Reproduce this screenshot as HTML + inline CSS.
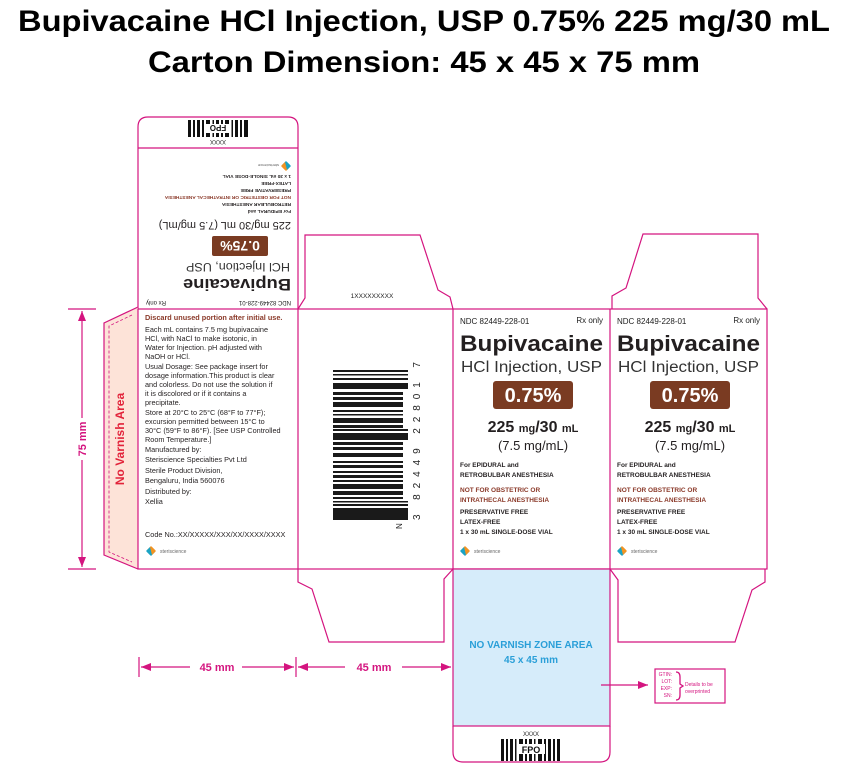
<!DOCTYPE html>
<html><head><meta charset="utf-8"><style>
html,body{margin:0;padding:0;background:#fff}
svg{display:block}
text{font-family:"Liberation Sans",sans-serif}
</style></head><body>
<svg width="841" height="768" viewBox="0 0 841 768" xmlns="http://www.w3.org/2000/svg">
<defs>
<marker id="ar" markerWidth="10" markerHeight="8" refX="10" refY="4" orient="auto" markerUnits="userSpaceOnUse"><path d="M0,0 L10,4 L0,8z" fill="#d4147f"/></marker>
<g id="logo"><path d="M0,-5 L4,-1 L0,0 L-4,-1z" fill="#f29322"/><path d="M0,5 L4,1 L0,0 L-4,1z" fill="#1aa3c4"/><path d="M-5,0 L-1,-4 L0,0 L-1,4z" fill="#1aa3c4"/><path d="M5,0 L1,-4 L0,0 L1,4z" fill="#f29322"/></g>
<g id="front">
<text x="460" y="324" font-size="8" fill="#222">NDC 82449-228-01</text>
<text x="603" y="323" font-size="8" fill="#222" text-anchor="end">Rx only</text>
<text x="460" y="351" font-size="22" font-weight="bold" fill="#231f20" textLength="143" lengthAdjust="spacingAndGlyphs">Bupivacaine</text>
<text x="461" y="372" font-size="15.5" fill="#333" textLength="141" lengthAdjust="spacingAndGlyphs">HCl Injection, USP</text>
<rect x="493" y="381" width="80" height="28" rx="3" fill="#7a3b22"/>
<text x="533" y="402" font-size="20" font-weight="bold" fill="#fff" text-anchor="middle">0.75%</text>
<text x="533" y="432" font-size="16" font-weight="bold" fill="#231f20" text-anchor="middle"><tspan>225 </tspan><tspan font-size="11">mg</tspan><tspan>/30 </tspan><tspan font-size="11">mL</tspan></text>
<text x="533" y="450" font-size="13" fill="#231f20" text-anchor="middle">(7.5 mg/mL)</text>
<g font-size="6.5" font-weight="bold" fill="#231f20">
<text x="460" y="467">For EPIDURAL and</text>
<text x="460" y="477">RETROBULBAR ANESTHESIA</text>
<text x="460" y="492" fill="#8b3a2a">NOT FOR OBSTETRIC OR</text>
<text x="460" y="502" fill="#8b3a2a">INTRATHECAL ANESTHESIA</text>
<text x="460" y="514">PRESERVATIVE FREE</text>
<text x="460" y="524">LATEX-FREE</text>
<text x="460" y="534">1 x 30 mL SINGLE-DOSE VIAL</text>
</g>
<use href="#logo" x="465" y="551"/>
<text x="474" y="553" font-size="5" fill="#666">steriscience</text>
</g>
</defs>

<text x="424" y="31" font-size="30" font-weight="bold" text-anchor="middle" textLength="812" lengthAdjust="spacingAndGlyphs">Bupivacaine HCl Injection, USP 0.75% 225 mg/30 mL</text>
<text x="424" y="72" font-size="30" font-weight="bold" text-anchor="middle" textLength="552" lengthAdjust="spacingAndGlyphs">Carton Dimension: 45 x 45 x 75 mm</text>

<g fill="none" stroke="#d4147f" stroke-width="1.2">
<path d="M138,309 V127 Q138,117 148,117 H288 Q298,117 298,127 V309"/>
<line x1="138" y1="148" x2="298" y2="148"/>
<path d="M138,307 L104,323 L104,555 L138,569" fill="#fde3d8"/>
<path d="M132,315 L109,326 L109,552 L132,562" stroke-dasharray="3,2" stroke-width="0.8"/>
<rect x="138" y="309" width="629" height="260"/>
<line x1="298" y1="309" x2="298" y2="569"/>
<line x1="453" y1="309" x2="453" y2="569"/>
<line x1="610" y1="309" x2="610" y2="569"/>
<path d="M298,309 L305,298 L305,235 L420,235 L438,290 L450,297 L453,309"/>
<path d="M612,309 L612,296 L626,288 L643,234 L758,234 L758,298 L767,309"/>
<path d="M298,569 L298,582 L312,589 L329,642 L444,642 L444,579 L453,569"/>
<rect x="453" y="569" width="157" height="157" fill="#d6ecfa"/>
<path d="M453,726 V752 Q453,762 463,762 H600 Q610,762 610,752 V726"/>
<path d="M610,569 L618,580 L618,642 L735,642 L752,590 L765,582 L765,569"/>
</g>

<g transform="rotate(180 218 213)">
<text x="145" y="125" font-size="6" fill="#222">NDC 82449-228-01</text>
<text x="290" y="125" font-size="6" fill="#222" text-anchor="end">Rx only</text>
<text x="145" y="147" font-size="17" font-weight="bold" fill="#231f20" textLength="108" lengthAdjust="spacingAndGlyphs">Bupivacaine</text>
<text x="146" y="163" font-size="12" fill="#333" textLength="104" lengthAdjust="spacingAndGlyphs">HCl Injection, USP</text>
<rect x="168" y="170" width="56" height="20" rx="2" fill="#7a3b22"/>
<text x="196" y="185" font-size="14" font-weight="bold" fill="#fff" text-anchor="middle">0.75%</text>
<text x="145" y="204" font-size="11" fill="#231f20">225 mg/30 mL (7.5 mg/mL)</text>
<g font-size="4.8" font-weight="bold" fill="#231f20">
<text x="145" y="216">For EPIDURAL and</text>
<text x="145" y="223">RETROBULBAR ANESTHESIA</text>
<text x="145" y="230" fill="#8b3a2a">NOT FOR OBSTETRIC OR INTRATHECAL ANESTHESIA</text>
<text x="145" y="237">PRESERVATIVE FREE</text>
<text x="145" y="244">LATEX-FREE</text>
<text x="145" y="251">1 x 30 mL SINGLE-DOSE VIAL</text>
</g>
<use href="#logo" x="150" y="260"/>
<text x="157" y="262" font-size="4" fill="#666">steriscience</text>
<text x="218" y="286" font-size="6" fill="#222" text-anchor="middle">XXXX</text>
<g fill="#111"><rect x="188" y="289" width="4" height="17"/><rect x="194" y="289" width="2" height="17"/><rect x="198" y="289" width="3" height="17"/><rect x="203" y="289" width="1.5" height="17"/><rect x="207" y="289" width="4" height="17"/><rect x="213" y="289" width="2" height="17"/><rect x="217" y="289" width="3" height="17"/><rect x="222" y="289" width="1.5" height="17"/><rect x="226" y="289" width="4" height="17"/><rect x="232" y="289" width="2" height="17"/><rect x="236" y="289" width="3" height="17"/><rect x="241" y="289" width="2" height="17"/><rect x="245" y="289" width="3" height="17"/></g>
<rect x="205" y="293" width="26" height="9" fill="#fff"/>
<text x="218" y="301" font-size="8" font-weight="bold" text-anchor="middle" fill="#111">FPO</text>
</g>

<g font-size="7.3" fill="#231f20">
<text x="145" y="320" font-weight="bold" fill="#8b3a2a">Discard unused portion after initial use.</text>
<text x="145" y="332">Each mL contains 7.5 mg  bupivacaine</text>
<text x="145" y="341">HCl, with NaCl to make isotonic, in</text>
<text x="145" y="350">Water for Injection. pH adjusted with</text>
<text x="145" y="359">NaOH or HCl.</text>
<text x="145" y="369">Usual Dosage: See package insert for</text>
<text x="145" y="378">dosage information.This product is clear</text>
<text x="145" y="387">and colorless. Do not use the solution if</text>
<text x="145" y="396">it is discolored or if it contains a</text>
<text x="145" y="405">precipitate.</text>
<text x="145" y="415">Store at 20°C to 25°C (68°F to 77°F);</text>
<text x="145" y="424">excursion permitted between 15°C to</text>
<text x="145" y="433">30°C (59°F to 86°F). [See USP Controlled</text>
<text x="145" y="442">Room Temperature.]</text>
<text x="145" y="452">Manufactured by:</text>
<text x="145" y="462">Steriscience Specialties Pvt Ltd</text>
<text x="145" y="473">Sterile Product Division,</text>
<text x="145" y="483">Bengaluru, India 560076</text>
<text x="145" y="494">Distributed by:</text>
<text x="145" y="504">Xellia</text>
<text x="145" y="537">Code No.:XX/XXXXX/XXX/XX/XXXX/XXXX</text>
</g>
<use href="#logo" x="151" y="551"/>
<text x="160" y="553" font-size="5" fill="#666">steriscience</text>

<text transform="translate(124 439) rotate(-90)" font-size="12" font-weight="bold" fill="#e2233a" text-anchor="middle">No Varnish Area</text>

<text x="372" y="298" font-size="6.5" fill="#222" text-anchor="middle">1XXXXXXXXX</text>
<g fill="#1a1a1a">
<rect x="333" y="370" width="75" height="2"/><rect x="333" y="374" width="75" height="1.5"/><rect x="333" y="378" width="75" height="2"/><rect x="333" y="383" width="75" height="6"/><rect x="333" y="392" width="70" height="3"/><rect x="333" y="397" width="70" height="3"/><rect x="333" y="402" width="70" height="5"/><rect x="333" y="410" width="70" height="2"/><rect x="333" y="414" width="70" height="1.5"/><rect x="333" y="418" width="70" height="5"/><rect x="333" y="425" width="70" height="3"/><rect x="333" y="429" width="75" height="2"/><rect x="333" y="433" width="75" height="7"/><rect x="333" y="442" width="70" height="3"/><rect x="333" y="447" width="70" height="3"/><rect x="333" y="453" width="70" height="4"/><rect x="333" y="461" width="70" height="2"/><rect x="333" y="465" width="70" height="3"/><rect x="333" y="471" width="70" height="2"/><rect x="333" y="475" width="70" height="3"/><rect x="333" y="480" width="70" height="2"/><rect x="333" y="484" width="70" height="5"/><rect x="333" y="491" width="70" height="4"/><rect x="333" y="497" width="70" height="2"/><rect x="333" y="501" width="75" height="1.5"/><rect x="333" y="504" width="75" height="2"/><rect x="333" y="508" width="75" height="12"/>
</g>
<text transform="translate(420 520) rotate(-90)" font-size="10" fill="#222" textLength="158" lengthAdjust="spacing">3 82449 22801 7</text>
<text transform="translate(402 529) rotate(-90)" font-size="8" fill="#222">N</text>

<use href="#front"/>
<use href="#front" x="157"/>

<text x="531" y="648" font-size="10" font-weight="bold" fill="#2a9fd8" text-anchor="middle">NO VARNISH ZONE AREA</text>
<text x="531" y="663" font-size="10" font-weight="bold" fill="#2a9fd8" text-anchor="middle">45 x 45 mm</text>
<text x="531" y="736" font-size="6" fill="#222" text-anchor="middle">XXXX</text>
<g fill="#111"><rect x="501" y="739" width="3" height="22"/><rect x="506" y="739" width="2" height="22"/><rect x="510" y="739" width="3" height="22"/><rect x="515" y="739" width="1.5" height="22"/><rect x="519" y="739" width="4" height="22"/><rect x="525" y="739" width="2" height="22"/><rect x="529" y="739" width="3" height="22"/><rect x="534" y="739" width="1.5" height="22"/><rect x="538" y="739" width="4" height="22"/><rect x="544" y="739" width="2" height="22"/><rect x="548" y="739" width="3" height="22"/><rect x="553" y="739" width="2" height="22"/><rect x="557" y="739" width="3" height="22"/></g>
<rect x="518" y="744" width="27" height="10" fill="#fff"/>
<text x="531" y="753" font-size="9" font-weight="bold" text-anchor="middle" fill="#111">FPO</text>

<g stroke="#d4147f" stroke-width="1.2" fill="none">
<line x1="139" y1="657" x2="139" y2="677"/>
<line x1="296" y1="657" x2="296" y2="677"/>
<line x1="242" y1="667" x2="294" y2="667" marker-end="url(#ar)"/>
<line x1="190" y1="667" x2="141" y2="667" marker-end="url(#ar)"/>
<line x1="345" y1="667" x2="298" y2="667" marker-end="url(#ar)"/>
<line x1="402" y1="667" x2="451" y2="667" marker-end="url(#ar)"/>
<line x1="68" y1="309" x2="96" y2="309"/>
<line x1="68" y1="569" x2="96" y2="569"/>
<line x1="82" y1="418" x2="82" y2="311" marker-end="url(#ar)"/>
<line x1="82" y1="460" x2="82" y2="567" marker-end="url(#ar)"/>
<line x1="601" y1="685" x2="648" y2="685" marker-end="url(#ar)"/>
<rect x="655" y="669" width="70" height="34"/>
</g>
<text x="217" y="671" font-size="11" font-weight="bold" fill="#d4147f" text-anchor="middle">45 mm</text>
<text x="374" y="671" font-size="11" font-weight="bold" fill="#d4147f" text-anchor="middle">45 mm</text>
<text transform="translate(86 439) rotate(-90)" font-size="11" font-weight="bold" fill="#d4147f" text-anchor="middle">75 mm</text>
<g font-size="5" fill="#d4147f">
<text x="672" y="676" text-anchor="end">GTIN:</text>
<text x="672" y="683" text-anchor="end">LOT:</text>
<text x="672" y="690" text-anchor="end">EXP:</text>
<text x="672" y="697" text-anchor="end">SN:</text>
<text x="685" y="686">Details to be</text>
<text x="685" y="693">overprinted</text>
</g>
<path d="M676,672 Q680,672 680,677 L680,684 L683,686 L680,688 L680,695 Q680,700 676,700" stroke="#d4147f" stroke-width="1.3" fill="none"/>
</svg>
</body></html>
